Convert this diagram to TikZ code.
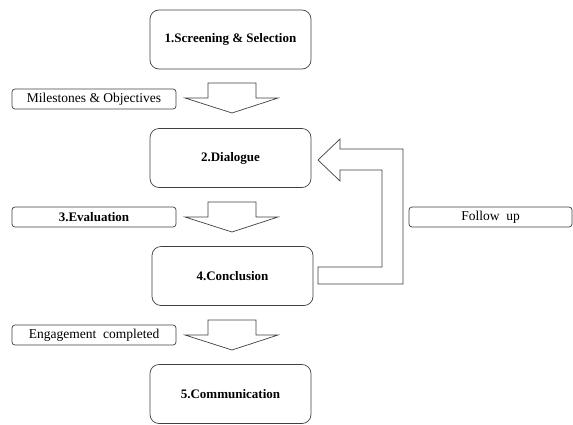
\documentclass[tikz,border=0pt]{standalone}
\usepackage{fontspec}
\setmainfont{Liberation Serif}
\begin{document}
\begin{tikzpicture}[x=1pt,y=-1pt,line width=0.7pt,font=\fontsize{13.5}{15}\selectfont,
	box/.style={draw=black!75,rounded corners=9pt,minimum width=161pt,minimum height=59pt,font=\fontsize{13}{15}\selectfont\bfseries},
	tag/.style={draw=black!75,rounded corners=3pt,minimum width=164pt,minimum height=20pt,inner sep=0pt},
	blk/.style={draw=black!75,fill=white,line join=miter}]
	\useasboundingbox (0,0) rectangle (573,424);
	% main stages
	\node[box] (scr) at (230.5,39.5) {1.Screening \& Selection};
	\node[box] (dia) at (230.5,158) {2.Dialogue};
	\node[box] (con) at (232.5,276) {4.Conclusion};
	\node[box] (com) at (230.5,394) {5.Communication};
	% side labels
	\node[tag] (mil) at (94,99) {Milestones \& Objectives};
	\node[tag,font=\fontsize{13}{15}\selectfont\bfseries] (eva) at (94,217) {3.Evaluation};
	\node[tag] (eng) at (94,335) {Engagement\ \ completed};
	\node[tag,minimum width=163pt] (fol) at (490.5,217) {Follow\ \ up};
	% block arrows down
	\foreach \y in {83,202,320}
		\draw[blk] (208,\y)--(256,\y)--(256,\y+15)--(278,\y+15)--(232,\y+30)--(185,\y+15)--(208,\y+15)--cycle;
	% follow up arrow back to dialogue
	\draw[blk] (318,267)--(382,267)--(382,170)--(340,170)--(340,181)--(318,160)--(340,139)--(340,149)--(403,149)--(403,284)--(318,284)--cycle;
\end{tikzpicture}
\end{document}
